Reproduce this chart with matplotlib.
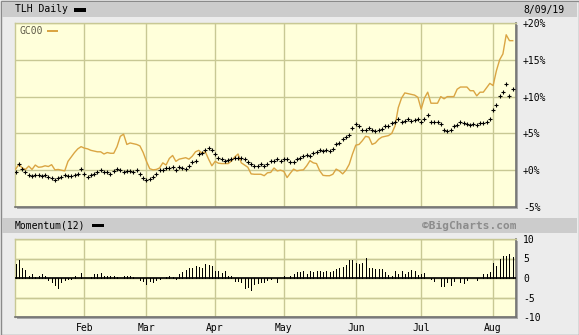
import numpy as np
import pandas as pd
import matplotlib
matplotlib.use("Agg")
import matplotlib.pyplot as plt
from matplotlib.patches import Rectangle

W, H = 579, 335
PX = 0.72  # one pixel in points at 100 dpi

################################ data ################################
# YTD 2019 trading days (NYSE holidays removed)
holidays = ["2019-01-21", "2019-02-18", "2019-04-19", "2019-05-27", "2019-07-04"]
days = pd.bdate_range("2019-01-02", "2019-08-09", freq="C", holidays=holidays)

# TLH daily close, % change vs first day
tlh_pct = [
    -0.25, 0.8, 0.1, -0.3, -0.6, -0.75, -0.7, -0.6, -0.75, -0.7,
    -0.9, -1.05, -1.3, -1.05, -0.95, -0.6, -0.85, -0.75, -0.7, -0.55,
    0.15, -0.55, -0.9, -0.7, -0.55, -0.3, 0.0, -0.2, -0.3, -0.55,
    -0.1, 0.15, 0.0, -0.3, -0.1, -0.1, -0.3, 0.05, -0.55, -1.0,
    -1.3, -1.25, -0.9, -0.55, 0.05, 0.05, 0.25, 0.3, 0.4, 0.05,
    0.4, 0.3, 0.15, 0.6, 1.05, 1.3, 2.2, 2.3, 2.8, 2.95,
    2.8, 2.2, 1.6, 1.5, 1.3, 1.4, 1.5, 1.6, 1.7, 1.6,
    1.5, 1.05, 0.8, 0.6, 0.6, 0.8, 0.6, 0.8, 1.25, 1.3,
    1.5, 1.25, 1.5, 1.5, 1.05, 1.15, 1.5, 1.7, 1.95, 2.05,
    1.95, 2.4, 2.5, 2.75, 2.6, 2.75, 2.6, 2.85, 3.5, 3.75,
    4.2, 4.55, 4.75, 5.8, 6.3, 6.0, 5.45, 5.45, 5.8, 5.45,
    5.36, 5.45, 5.6, 6.0, 6.0, 6.36, 6.6, 6.95, 6.6, 6.7,
    6.95, 6.7, 6.8, 6.95, 6.5, 6.95, 7.5, 6.6, 6.5, 6.5,
    6.3, 5.45, 5.36, 5.45, 6.0, 6.2, 6.5, 6.36, 6.3, 6.2,
    6.3, 6.2, 6.36, 6.36, 6.5, 6.95, 8.2, 8.8, 10.1, 10.6,
    11.7, 10.1, 11.0,
]

# GC00 (gold continuous) % change
gold_pct = [
    0.15, 0.8, 0.3, 0.1, 0.55, 0.1, 0.7, 0.4, 0.45, 0.6,
    0.5, 0.75, 0.05, 0.1, 0.0, -0.1, 1.2, 1.8, 2.4, 2.9,
    3.2, 3.0, 2.9, 2.7, 2.6, 2.5, 2.5, 2.2, 2.4, 2.3,
    2.3, 3.2, 4.6, 4.9, 3.5, 3.7, 3.6, 3.5, 3.3, 2.4,
    1.2, 0.2, 0.05, 0.1, 0.3, 1.0, 0.7, 1.6, 2.0, 1.2,
    1.5, 1.6, 1.7, 1.5, 1.9, 2.5, 2.7, 2.3, 2.5, 1.5,
    0.6, 1.2, 0.95, 0.9, 0.9, 0.9, 1.25, 1.8, 2.2, 1.0,
    0.7, 0.4, -0.5, -0.55, -0.55, -0.55, -0.75, -0.35, -0.3, 0.3,
    -0.1, 0.0, -0.15, -1.0, -0.4, 0.15, -0.1, 0.0, 0.05, 0.6,
    1.3, 1.0, 0.9, -0.1, -0.7, -0.75, -0.75, -0.55, 0.15, -0.1,
    -0.5, 0.0, 0.8, 2.2, 3.4, 3.5, 4.0, 4.6, 4.5, 3.5,
    3.7, 4.2, 4.5, 4.6, 4.7, 5.0, 6.0, 8.5, 9.8, 10.5,
    10.4, 10.3, 10.2, 9.9, 8.3, 9.8, 10.6, 9.1, 9.1, 9.1,
    10.0, 9.7, 10.0, 10.0, 10.0, 11.0, 11.3, 11.3, 11.3, 10.8,
    10.8, 10.1, 10.6, 10.6, 11.2, 11.8, 11.5, 13.5, 15.0, 15.8,
    18.4, 17.6, 17.6,
]

# Momentum(12) of TLH
momentum = [
    3.5, 4.6, 2.6, 2.0, 0.6, 0.9, 0.3, 0.4, 1.1, 0.6,
    -0.4, -0.9, -1.75, -2.6, -1.05, -0.4, -0.3, -0.3, 0.4, 0.0,
    1.3, 0.0, 0.0, 0.3, 0.9, 0.9, 1.3, 0.4, 0.6, 0.6,
    0.4, 0.3, 0.0, 0.6, 0.6, 0.6, 0.3, 0.0, -0.6, -0.7,
    -1.5, -0.7, -0.9, -0.6, -0.3, 0.0, 0.3, 0.4, 0.3, -0.3,
    1.1, 1.5, 2.0, 2.5, 2.5, 3.2, 2.9, 2.6, 3.5, 3.3,
    3.2, 1.9, 1.75, 1.3, 1.75, 0.6, 0.4, -0.7, -0.7, -1.1,
    -2.6, -2.2, -3.1, -1.5, -1.3, -0.9, -1.1, -0.6, -0.3, 0.0,
    -1.05, 0.0, 0.6, 0.0, 0.4, 1.1, 1.5, 1.5, 1.9, 0.9,
    1.75, 1.5, 1.75, 1.9, 1.5, 1.75, 1.5, 1.9, 2.3, 2.6,
    2.9, 3.4, 4.6, 4.6, 3.8, 3.5, 3.8, 5.1, 2.5, 2.5,
    2.2, 2.2, 2.2, 1.5, 0.7, 0.4, 1.75, 0.9, 1.75, 1.15,
    1.5, 2.0, 1.75, 0.7, 1.15, 1.3, 0.0, -0.25, -0.7, 0.0,
    -2.0, -2.0, -0.9, -1.75, -0.7, 0.0, -0.9, -1.3, -0.45, 0.0,
    0.0, -0.45, 0.0, 1.15, 1.15, 1.5, 3.8, 3.2, 4.8, 5.7,
    5.7, 6.1, 5.5,
]

pct_ticks = [20, 15, 10, 5, 0, -5]
pct_labels = ["+20%", "+15%", "+10%", "+5%", "+0%", "-5%"]
mom_ticks = [10, 5, 0, -5, -10]
mom_labels = ["10", "5", "0", "-5", "-10"]

############################## helpers ###############################
GRID = "#c8c894"
PANEL = "#ffffda"
GOLD = "#daa543"
SHADE = "#707070"

plt.rcParams["font.family"] = ["DejaVu Sans Mono", "DejaVu Sans"]
plt.rcParams["font.size"] = 7

fig = plt.figure(figsize=(W / 100, H / 100), dpi=100, facecolor="#ececec")


def fbox(x0, y0, x1, y1):
    # pixel box (top-left origin) -> figure fraction
    return [x0 / W, 1 - y1 / H, (x1 - x0) / W, (y1 - y0) / H]


def rect(x0, y0, x1, y1, **kw):
    fig.add_artist(Rectangle((x0 / W, 1 - y1 / H), (x1 - x0) / W, (y1 - y0) / H,
                             transform=fig.transFigure, **kw))


def label(x, y, s, **kw):
    fig.text(x / W, 1 - y / H, s, va="center", **kw)


def style_panel(ax):
    # call after ticks are set
    ax.set_facecolor(PANEL)
    ax.xaxis.grid(True, color=GRID, lw=1)
    ax.yaxis.grid(True, color=GRID, lw=1)
    ax.set_axisbelow(True)
    ax.tick_params(length=0)
    for side in ("top", "left"):
        ax.spines[side].set_color(GRID)
        ax.spines[side].set_linewidth(1)
    for side in ("bottom", "right"):
        ax.spines[side].set_color(SHADE)
        ax.spines[side].set_linewidth(1.2)


x = np.arange(len(days))
month_idx = [i for i in range(1, len(days)) if days[i].month != days[i - 1].month]
month_names = [days[i].strftime("%b") for i in month_idx]

############################## frame ##################################
rect(0.5, 0.5, 578.5, 334.5, fill=False, ec="#8a8a8a", lw=1, zorder=-2)
rect(2, 2, 577, 17, fc="#cccccc", ec="none", zorder=-2)
rect(2, 218, 577, 233, fc="#cccccc", ec="none", zorder=-2)
rect(17, 25, 518, 209, fc="#a8a8a8", ec="none", zorder=-1)
rect(17, 241, 518, 319, fc="#a8a8a8", ec="none", zorder=-1)

label(15, 9.5, "TLH Daily")
rect(74, 8, 86, 12, fc="black", ec="none")
label(523, 9.5, "8/09/19")

label(15, 225.5, "Momentum(12)")
rect(92, 224, 104, 227, fc="black", ec="none")
label(516, 225.5, "\u00a9BigCharts.com", ha="right", color="#8c8c8c",
      fontweight="bold", fontsize=8)

############################## price panel ############################
ax = fig.add_axes(fbox(15, 23, 516, 207))
ax.plot(x, gold_pct, color=GOLD, lw=1.0, zorder=3)
ax.plot(x, tlh_pct, ls="none", marker="+", ms=3, mew=0.8, color="black", zorder=4)
ax.set_xlim(-0.2, 153.0)
ax.set_ylim(-5, 20)
ax.set_xticks(month_idx)
ax.set_yticks(pct_ticks)
ax.set_yticklabels(pct_labels)
ax.yaxis.tick_right()
ax.tick_params(labelbottom=False, pad=5)
style_panel(ax)

label(19, 31, "GC00", color="#5e5a48", zorder=5)
rect(47, 30, 58, 32, fc=GOLD, ec="none", zorder=5)

############################## momentum panel #########################
ax2 = fig.add_axes(fbox(15, 239, 516, 317))
for v in mom_ticks:
    ax2.axhline(v, color=GRID, lw=1, zorder=1)
ax2.vlines(x, 0, momentum, color="black", lw=PX, antialiased=False, zorder=3)
ax2.axhline(0, color="black", lw=1.2, zorder=4)
ax2.set_xlim(-0.2, 153.0)
ax2.set_ylim(-10, 10)
ax2.set_yticks(mom_ticks)
ax2.set_yticklabels(mom_labels)
ax2.yaxis.tick_right()
ax2.set_xticks(month_idx)
ax2.set_xticklabels(month_names)
ax2.tick_params(axis="y", pad=5)
ax2.tick_params(axis="x", pad=4)
style_panel(ax2)

fig.savefig("out.png", dpi=100, facecolor=fig.get_facecolor())
